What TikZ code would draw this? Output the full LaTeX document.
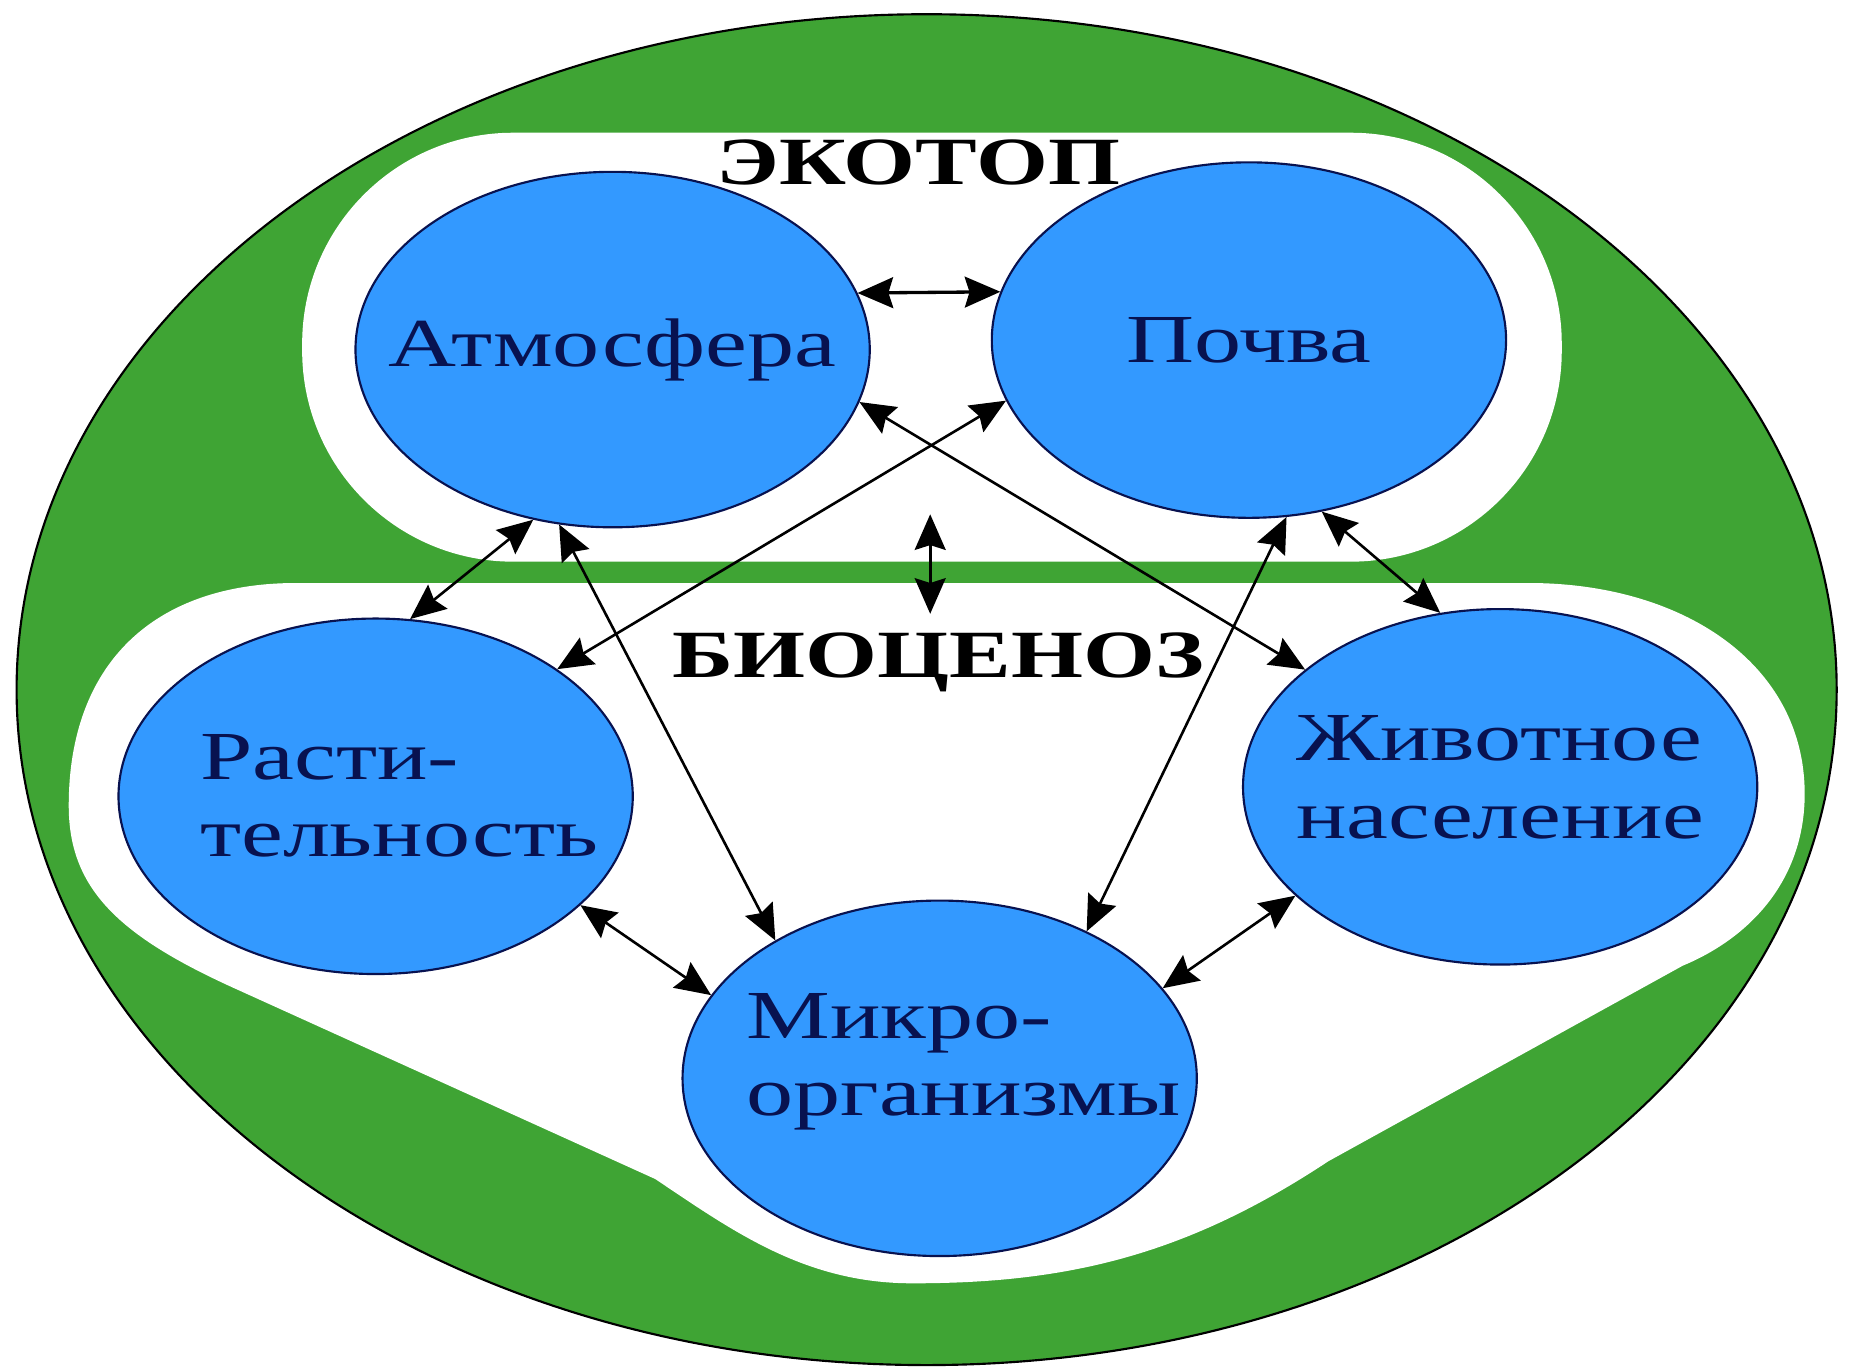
\documentclass[tikz,border=0pt]{standalone}
\usepackage{fontspec}
\usepackage{tikz}
\usepackage{xcolor}
\usetikzlibrary{arrows.meta}
\usetikzlibrary{shapes.geometric}
\newfontfamily\schemefont[FakeStretch=1.37]{Liberation Serif}
\definecolor{leaf}{RGB}{63,164,52}
\definecolor{sky}{RGB}{51,153,255}
\definecolor{ink}{RGB}{8,18,80}

\begin{document}
\begin{tikzpicture}[x=1pt,y=-1pt,>={Stealth[length=30pt,width=26pt,inset=4pt]},line width=2.2pt,
                    main node/.style={ellipse,draw=ink,line width=1.8pt,fill=sky,
                      minimum width=434pt,minimum height=300pt,inner sep=0pt},
                    tag/.style={text=ink,align=left,inner sep=0pt,
                      font=\schemefont\fontsize{58}{65}\selectfont},
                    title node/.style={anchor=base,inner sep=0pt,
                      font=\schemefont\bfseries\fontsize{57}{60}\selectfont},
                    heavy/.style={line width=2.8pt}]

  \useasboundingbox (0,0) rectangle (1568,1154);
  \fill[white] (0,0) rectangle (1568,1154);

  % green ring and the two white fields
  \draw[fill=leaf,line width=1.8pt] (782,582) ellipse [x radius=768pt,y radius=570pt];
  \fill[white,rounded corners=178pt] (255,112) rectangle (1318,474);
  \fill[white] (58,680) .. controls (58,560) and (130,492) .. (250,492) -- (1290,492)
    .. controls (1420,492) and (1523,560) .. (1523,670)
    .. controls (1523,740) and (1480,790) .. (1420,815) -- (1121,980)
    .. controls (1000,1060) and (900,1083) .. (770,1083)
    .. controls (680,1083) and (620,1040) .. (553,995) -- (200,835)
    .. controls (100,790) and (58,750) .. (58,680) -- cycle;

  \node[title node] (ecotop) at (775,156) {ЭКОТОП};
  \node[title node] (biocen) at (792,572) {БИОЦЕНОЗ};

  \node[main node,label={[tag]center:Атмосфера}] (atm) at (517,295) {};
  \node[main node,label={[tag]center:Почва}] (soil) at (1054,287) {};
  \node[main node,label={[tag,xshift=20pt]center:Расти-\\тельность}] (plant) at (317,672) {};
  \node[main node,label={[tag,yshift=8pt]center:Животное\\население}] (fauna) at (1266,664) {};
  \node[main node,label={[tag,xshift=20pt,yshift=14pt]center:Микро-\\организмы}] (micro) at (793,910) {};

  \coordinate (gap top) at (785,434);
  \coordinate (gap bottom) at (785,518);

  \path[<->]
    (atm.13) edge[heavy] (soil.169)
    (atm.-12) edge (fauna.149)
    (atm.-115) edge (plant.79)
    (atm.-107) edge (micro.140)
    (soil.-166) edge (plant.35)
    (soil.-78) edge (micro.45)
    (soil.-67) edge (fauna.109)
    (plant.-28) edge (micro.160)
    (fauna.-152) edge (micro.22)
    (gap top) edge[heavy] (gap bottom)
    ;
\end{tikzpicture}
\end{document}
